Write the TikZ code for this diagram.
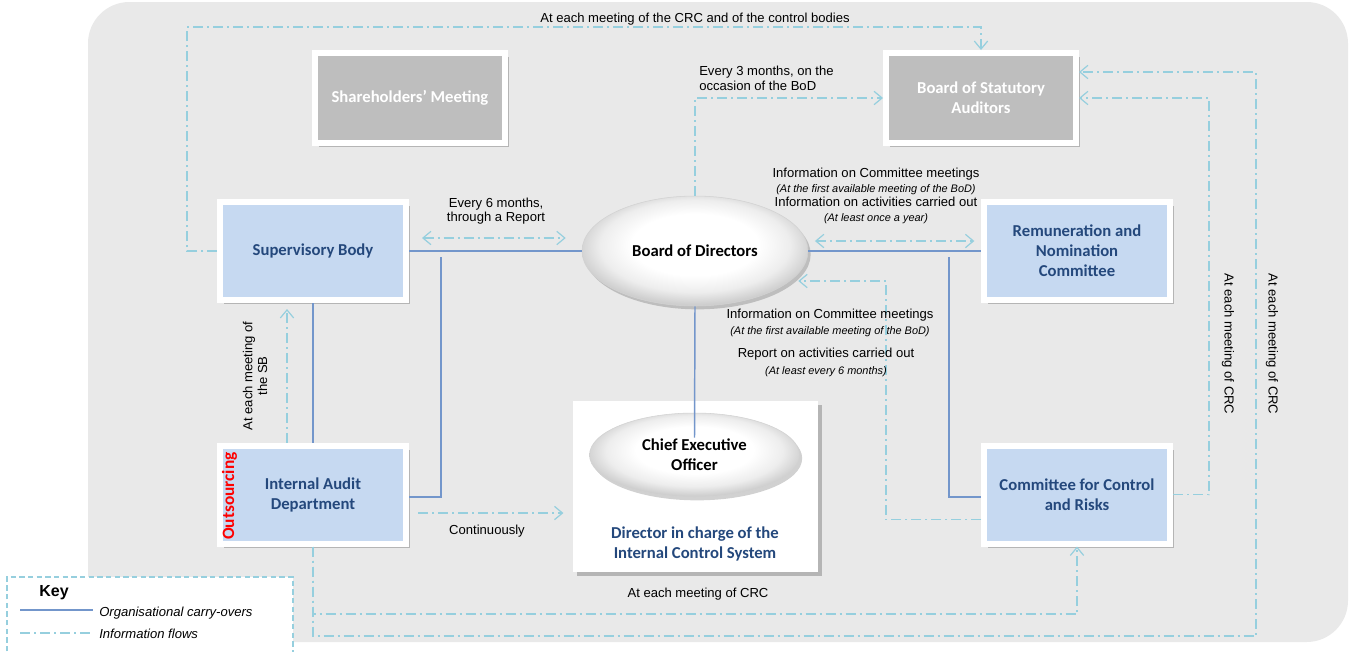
\documentclass[tikz,border=0pt]{standalone}
\usepackage{fontspec}
\setmainfont{Liberation Sans}
\newfontfamily\boxfont{Carlito}
\usetikzlibrary{arrows.meta,shadows,shapes.geometric}

\definecolor{canvas}{HTML}{E9E9E9}
\definecolor{paleblue}{HTML}{C6D9F1}
\definecolor{navytext}{HTML}{24487C}
\definecolor{greyfill}{HTML}{BEBEBE}
\definecolor{orgline}{HTML}{7396CB}
\definecolor{infoline}{HTML}{96CFDE}

% glossy fill for the oval bodies: white core, grey rim towards the bottom
\pgfdeclareradialshading{glossy}{\pgfpoint{0bp}{4bp}}{%
  color(0bp)=(white); color(14bp)=(white); color(21bp)=(gray!14);
  color(26bp)=(gray!38); color(30bp)=(gray!45); color(50bp)=(gray!45)}

\newcommand\lbltext{\fontsize{9.8}{11}\selectfont}
\newcommand\subtext{\fontsize{8.2}{11}\selectfont\itshape}
\newcommand\boxtext{\boxfont\bfseries\fontsize{12.5}{15}\selectfont}

\begin{document}
\begin{tikzpicture}[x=0.75pt, y=-0.75pt,
  unitbox/.style={rectangle, draw=white, line width=4.5pt,
    minimum width=139.5pt, minimum height=73.5pt, align=center, font=\boxtext,
    drop shadow={shadow xshift=3pt, shadow yshift=-3pt, opacity=0.22, fill=black}},
  bluebox/.style={unitbox, fill=paleblue, text=navytext},
  greybox/.style={unitbox, fill=greyfill, text=white,
    minimum width=142.5pt, minimum height=67.5pt},
  oval/.style={ellipse, shading=glossy, draw=gray!35,
    line width=0.4pt, align=center, font=\boxtext, text=black, inner sep=0pt,
    drop shadow={shadow xshift=2pt, shadow yshift=-2.5pt, opacity=0.18, fill=black}},
  org/.style={draw=orgline, line width=1.1pt},
  info/.style={draw=infoline, line width=0.9pt,
    dash pattern=on 7.5pt off 3pt on 1.5pt off 3pt},
  flow/.style={info, -{Straight Barb[length=6pt,width=10pt]}},
  flowboth/.style={info, {Straight Barb[length=6pt,width=10pt]}-{Straight Barb[length=6pt,width=10pt]}},
  lbl/.style={font=\lbltext, align=center, inner sep=0pt},
]
\useasboundingbox (0,0) rectangle (1350,651);

% rounded grey canvas
\fill[canvas, rounded corners=31pt] (88,2) rectangle (1348,642);

% legend frame
\draw[draw=infoline, dash pattern=on 4pt off 2.5pt, line width=0.8pt, fill=white]
  (7,660) -- (7,577) -- (293,577) -- (293,660);

% bodies
\node[greybox] (shm) at (410,98) {Shareholders’ Meeting};
\node[greybox] (bsa) at (981,98) {Board of Statutory\\Auditors};
\node[bluebox] (sb)  at (313,251) {Supervisory Body};
\node[bluebox] (iad) at (313,494.5) {Internal Audit\\Department};
\node[bluebox] (rnc) at (1077,251) {Remuneration and\\Nomination\\Committee};
\node[bluebox] (ccr) at (1077,494.5) {Committee for Control\\and Risks};
\node[rotate=90, text=red, font=\boxfont\bfseries\fontsize{13}{15}\selectfont, inner sep=0pt]
  (outs) at (229.5,496) {Outsourcing};

\node[oval, minimum width=169.5pt, minimum height=82.5pt] (bod) at (695,251) {Board of Directors};

\node[rectangle, fill=white, minimum width=183.75pt, minimum height=128.25pt,
  drop shadow={shadow xshift=3pt, shadow yshift=-3pt, opacity=0.22, fill=black}]
  (ceobox) at (695.5,486.5) {};
\node[oval, minimum width=157.5pt, minimum height=63pt] (ceo) at (694.5,455) {Chief Executive\\Officer};
\node[font=\boxtext, text=navytext, align=center, inner sep=0pt] (dics) at (695,544)
  {Director in charge of the\\Internal Control System};

% organisational carry-overs
\coordinate (sbj) at (441,257);
\coordinate (rnj) at (949,257);
\draw[org] (sb.east) -- (bod.west);
\draw[org] (bod.east) -- (rnc.west);
\draw[org] (sb.south) -- (iad.north);
\draw[org] (sbj) |- ([yshift=-1.9pt]iad.east);
\draw[org] (rnj) |- ([yshift=-1.9pt]ccr.west);
\draw[org] (bod.south) -- ([yshift=-18.75pt]ceo.north);

% information flows
\draw[flow] (sb.west) -- ++(-30,0) |- (bsa.north |- 0,27) -- (bsa.north);
\draw[flow] (bod.north) |- (bsa.west);
\draw[flowboth] ([xshift=9.75pt,yshift=9.75pt]sb.east) -- ([xshift=-12pt,yshift=9.75pt]bod.west);
\draw[flowboth] ([xshift=5pt,yshift=7.5pt]bod.east) -- ([xshift=-5pt,yshift=7.5pt]rnc.west);
\draw[flow] ([yshift=-19pt]ccr.west) -| (886,281) -- ([xshift=-7.5pt,yshift=-22.5pt]bod.east);
\draw[flow] (ccr.east) -- ++(36,0) |- (bsa.east);
\draw[flow] (iad.south) |- (1256,636) |- ([yshift=19.5pt]bsa.east);
\draw[flow] (iad.south) |- (ccr.south |- 0,614) -- (ccr.south);
\draw[flow] ([xshift=-19.5pt]iad.north) -- ([xshift=-19.5pt,yshift=-4.5pt]sb.south);
\draw[flow] ([xshift=6.75pt,yshift=-13.9pt]iad.east) -- ([xshift=-7pt,yshift=-13.9pt]ceobox.west |- iad.east);

% flow labels
\node[lbl] (ltop) at (695,19) {At each meeting of the CRC and of the control bodies};
\node[lbl, anchor=west, align=left] (l3m) at (699,78) {Every 3 months, on the\\occasion of the BoD};
\node[lbl] (l6m) at (496,211) {Every 6 months,\\through a Report};
\node[lbl] (lrnc) at (876,196) {Information on Committee meetings\\{\subtext (At the first available meeting of the BoD)}\\Information on activities carried out\\{\subtext (At least once a year)}};
\node[lbl] (lccr1) at (830,323) {Information on Committee meetings\\[1pt]{\subtext (At the first available meeting of the BoD)}};
\node[lbl] (lccr2) at (826,362) {Report on activities carried out\\[1.75pt]{\subtext (At least every 6 months)}};
\node[lbl, rotate=90] (lsb) at (255,376) {At each meeting of\\the SB};
\node[lbl, rotate=-90] (lcrc1) at (1228,344) {At each meeting of CRC};
\node[lbl, rotate=-90] (lcrc2) at (1272,344) {At each meeting of CRC};
\node[lbl] (lcont) at (487,531) {Continuously};
\node[lbl] (lbot) at (698,594) {At each meeting of CRC};

% legend
\node[font=\bfseries\fontsize{12}{14}\selectfont, inner sep=0pt] (keyt) at (54,593) {Key};
\coordinate (k1a) at (20,610);
\coordinate (k1b) at (93,610);
\coordinate (k2a) at (20,633);
\coordinate (k2b) at (93,633);
\draw[org] (k1a) -- (k1b);
\draw[info] (k2a) -- (k2b);
\node[lbl, anchor=west, font=\lbltext\itshape] (korg) at (99,613) {Organisational carry-overs};
\node[lbl, anchor=west, font=\lbltext\itshape] (kinf) at (99,634) {Information flows};
\end{tikzpicture}
\end{document}
